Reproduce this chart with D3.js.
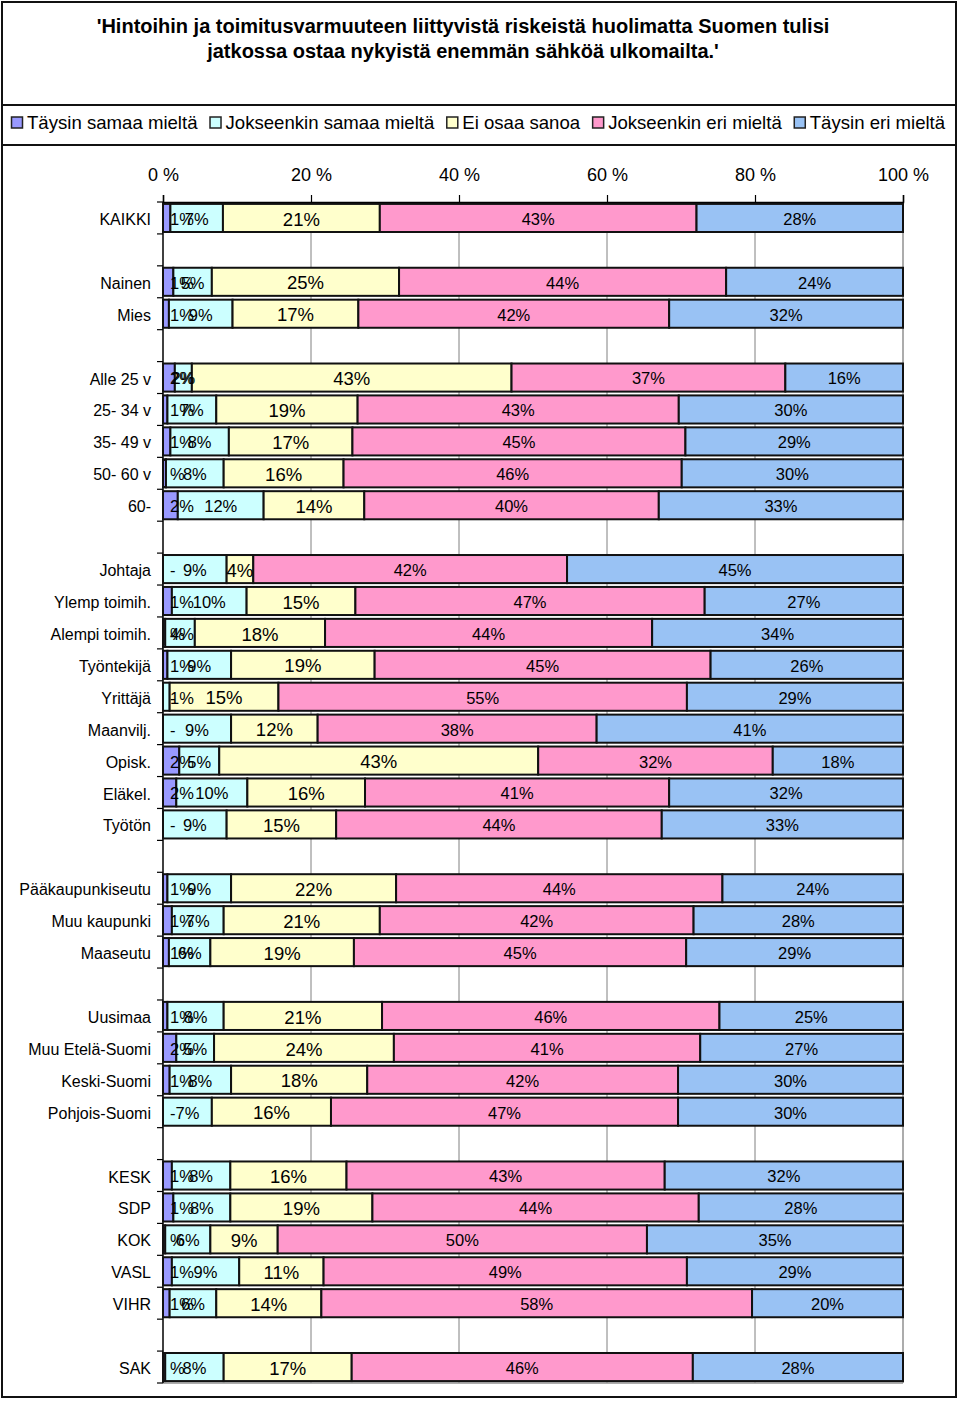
<!DOCTYPE html>
<html>
<head>
<meta charset="utf-8">
<script src="https://cdn.jsdelivr.net/npm/d3@7"></script>
<style>
  html, body { margin: 0; padding: 0; background: #fff; }
  svg { display: block; }
  text { font-family: Arial, "Liberation Sans", sans-serif; fill: #000; }
</style>
</head>
<body>
<script>
// ---------------- DATA ----------------
const title1 = "'Hintoihin ja toimitusvarmuuteen liittyvistä riskeistä huolimatta Suomen tulisi";
const title2 = "jatkossa ostaa nykyistä enemmän sähköä ulkomailta.'";

const seriesNames = ["Täysin samaa mieltä", "Jokseenkin samaa mieltä", "Ei osaa sanoa", "Jokseenkin eri mieltä", "Täysin eri mieltä"];

const groups = [
  ["KAIKKI"],
  ["Nainen", "Mies"],
  ["Alle 25 v", "25- 34 v", "35- 49 v", "50- 60 v", "60-"],
  ["Johtaja", "Ylemp toimih.", "Alempi toimih.", "Työntekijä", "Yrittäjä", "Maanvilj.", "Opisk.", "Eläkel.", "Työtön"],
  ["Pääkaupunkiseutu", "Muu kaupunki", "Maaseutu"],
  ["Uusimaa", "Muu Etelä-Suomi", "Keski-Suomi", "Pohjois-Suomi"],
  ["KESK", "SDP", "KOK", "VASL", "VIHR"],
  ["SAK"]
];

// values in category order (flattened groups)
const taysinSamaa =    [1.0, 1.4, 0.8, 1.6, 0.6, 1.0, 0.4, 2.0, 0,   1.2, 0.3, 0.6, 0,   0,   2.2, 1.8, 0,   0.6, 1.2, 0.8, 0.6, 1.8, 0.9, 0,   1.2, 1.4, 0.3, 1.2, 0.9, 0.3];
const jokseenkinSamaa =[7.1, 5.2, 8.6, 2.3, 6.6, 7.9, 7.8, 11.6,8.6, 10.1,4.0, 8.6, 0.9, 9.2, 5.4, 9.6, 8.6, 8.6, 7.0, 5.6, 7.6, 5.1, 8.3, 6.6, 7.9, 7.7, 6.1, 9.1, 6.3, 7.9];
const eiOsaa =         [21.2,25.3,17.0,43.2,19.1,16.7,16.2,13.6,3.6, 14.7,17.6,19.4,14.7,11.7,43.1,15.9,14.8,22.3,21.1,19.4,21.4,24.3,18.4,16.1,15.7,19.2,9.1, 11.4,14.2,17.3];
const jokseenkinEri =  [42.8,44.2,42.0,37.0,43.4,45.0,45.7,39.8,42.4,47.2,44.2,45.4,55.2,37.7,31.7,41.1,44.0,44.1,42.4,44.9,45.6,41.4,42.0,46.9,43.0,44.1,49.9,49.1,58.2,46.1];
const taysinEri =      [27.9,23.9,31.6,15.9,30.3,29.4,29.9,33.0,45.4,26.8,33.9,26.0,29.2,41.4,17.6,31.6,32.6,24.4,28.3,29.3,24.8,27.4,30.4,30.4,32.2,27.6,34.6,29.2,20.4,28.4];

const tickValues = [0, 20, 40, 60, 80, 100];
const tickLabels = ["0 %", "20 %", "40 %", "60 %", "80 %", "100 %"];

const colors = ["#9999FF", "#CCFFFF", "#FFFFCC", "#FF99CC", "#99C2F4"];

// ---------------- LAYOUT ----------------
const W = 960, H = 1401;
const plot = { left: 163, right: 903, top: 202, bottom: 1383 };

const svg = d3.select("body").append("svg").attr("width", W).attr("height", H);

// outer frame & boxes
svg.append("rect").attr("x", 2).attr("y", 2).attr("width", 954).attr("height", 1395)
  .attr("fill", "#fff").attr("stroke", "#111").attr("stroke-width", 2);
svg.append("line").attr("x1", 2).attr("x2", 956).attr("y1", 105).attr("y2", 105).attr("stroke", "#111").attr("stroke-width", 2);
svg.append("line").attr("x1", 2).attr("x2", 956).attr("y1", 145).attr("y2", 145).attr("stroke", "#111").attr("stroke-width", 2);

// title
svg.append("text").attr("x", 463).attr("y", 33).attr("text-anchor", "middle")
  .style("font-size", "20px").style("font-weight", "bold").text(title1);
svg.append("text").attr("x", 463).attr("y", 58).attr("text-anchor", "middle")
  .style("font-size", "20px").style("font-weight", "bold").text(title2);

// legend
const legend = svg.append("g");
let lx = 11;
seriesNames.forEach((name, i) => {
  const g = legend.append("g").attr("transform", `translate(${lx},0)`);
  g.append("rect").attr("x", 0.5).attr("y", 117).attr("width", 11).attr("height", 11)
    .attr("fill", colors[i]).attr("stroke", "#222").attr("stroke-width", 1.5);
  const t = g.append("text").attr("x", 16).attr("y", 129).style("font-size", "18.6px").text(name);
  const w = t.node().getComputedTextLength();
  lx += 16 + w + 12;
});

// scales
const categories = [];
const domain = [];
groups.forEach((grp, gi) => {
  if (gi > 0) domain.push("__gap" + gi);
  grp.forEach(c => { categories.push(c); domain.push(c); });
});

const x = d3.scaleLinear().domain([0, 100]).range([plot.left, plot.right]);
const y = d3.scaleBand().domain(domain).range([plot.top, plot.bottom]).paddingInner(0.12).paddingOuter(0.06);

// gridlines
svg.append("g").selectAll("line").data(tickValues.slice(1, -1)).join("line")
  .attr("x1", d => x(d)).attr("x2", d => x(d)).attr("y1", plot.top).attr("y2", plot.bottom)
  .attr("stroke", "#808080").attr("stroke-width", 1);
// plot border (right & bottom gray)
svg.append("line").attr("x1", plot.right).attr("x2", plot.right).attr("y1", plot.top).attr("y2", plot.bottom)
  .attr("stroke", "#909090").attr("stroke-width", 1.5);
svg.append("line").attr("x1", plot.left).attr("x2", plot.right).attr("y1", plot.bottom).attr("y2", plot.bottom)
  .attr("stroke", "#909090").attr("stroke-width", 1.5);

// top axis
const axTop = svg.append("g").attr("transform", `translate(0,${plot.top})`)
  .call(d3.axisTop(x).tickValues(tickValues).tickFormat((d, i) => tickLabels[i]).tickSize(7).tickPadding(14));
axTop.select(".domain").attr("stroke", "#000").attr("stroke-width", 1.5);
axTop.selectAll(".tick line").attr("stroke", "#000").attr("stroke-width", 1.2);
axTop.selectAll(".tick text").style("font-size", "18px").style("font-family", "Arial, 'Liberation Sans', sans-serif").attr("fill", "#000");

// left axis with ticks at slot boundaries
const step = y.step();
const boundaries = d3.range(domain.length + 1).map(i => plot.top + i * step);
svg.append("line").attr("x1", plot.left).attr("x2", plot.left).attr("y1", plot.top).attr("y2", plot.bottom)
  .attr("stroke", "#000").attr("stroke-width", 1.5);
svg.append("g").selectAll("line").data(boundaries).join("line")
  .attr("x1", plot.left - 6).attr("x2", plot.left).attr("y1", d => d).attr("y2", d => d)
  .attr("stroke", "#000").attr("stroke-width", 1.2);

// category labels
svg.append("g").selectAll("text").data(categories).join("text")
  .attr("x", 151).attr("y", d => y(d) + y.bandwidth() / 2 + 7)
  .attr("text-anchor", "end").style("font-size", "16px").text(d => d);

// stacked data
const rows = categories.map((c, i) => ({
  cat: c,
  s0: taysinSamaa[i], s1: jokseenkinSamaa[i], s2: eiOsaa[i], s3: jokseenkinEri[i], s4: taysinEri[i]
}));
const keys = ["s0", "s1", "s2", "s3", "s4"];
const stacked = d3.stack().keys(keys)(rows);

const barG = svg.append("g");
stacked.forEach((layer, li) => {
  barG.append("g").selectAll("rect").data(layer).join("rect")
    .attr("x", d => x(d[0])).attr("width", d => x(d[1]) - x(d[0]))
    .attr("y", d => y(d.data.cat)).attr("height", y.bandwidth())
    .attr("fill", colors[li]).attr("stroke", "#111").attr("stroke-width", 2);
});

// labels
const fmt = v => v === 0 ? "-" : (Math.round(v) === 0 ? "%" : Math.round(v) + "%");
const labelG = svg.append("g");
stacked.forEach((layer, li) => {
  layer.forEach(d => {
    const fs = li === 2 ? 18.5 : 16.5;
    const t = labelG.append("text")
      .attr("y", y(d.data.cat) + y.bandwidth() / 2 + fs * 0.36 + 1)
      .attr("text-anchor", "middle").style("font-size", fs + "px")
      .text(fmt(d.data[keys[li]]));
    const w = t.node().getComputedTextLength();
    let cx = (x(d[0]) + x(d[1])) / 2;
    cx = Math.max(cx, plot.left + 7 + w / 2);
    t.attr("x", cx);
  });
});
</script>
</body>
</html>
